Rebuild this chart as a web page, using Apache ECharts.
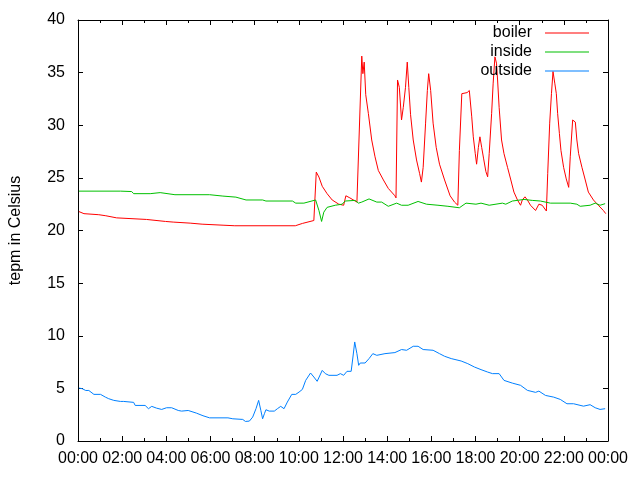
<!DOCTYPE html>
<html>
<head>
<meta charset="utf-8">
<script src="https://cdn.jsdelivr.net/npm/echarts@6/dist/echarts.min.js"></script>
<style>html,body{margin:0;padding:0;background:#fff;}#c{width:640px;height:480px;}</style>
</head>
<body>
<div id="c"></div>
<script>
const seriesNames = ['boiler', 'inside', 'outside'];
const xTickHours = [0, 2, 4, 6, 8, 10, 12, 14, 16, 18, 20, 22, 24];

const boilerHours = [0.04,0.27,0.94,1.26,1.75,3.1,3.96,4.31,5.08,5.62,6.61,7.1,9.84,10.16,10.68,10.79,10.91,11.06,11.28,11.51,11.81,12.03,12.13,12.31,12.63,12.72,12.85,12.9,12.96,13.03,13.15,13.3,13.45,13.6,13.83,14.05,14.35,14.4,14.47,14.55,14.65,14.73,14.83,14.91,14.98,15.06,15.18,15.33,15.47,15.55,15.63,15.74,15.82,15.88,15.97,16.08,16.22,16.37,16.6,16.85,17.05,17.2,17.27,17.38,17.62,17.72,17.83,17.9,17.99,18.05,18.13,18.2,18.28,18.37,18.47,18.55,18.62,18.73,18.8,18.88,18.95,19.0,19.07,19.18,19.29,19.45,19.6,19.74,19.9,20.04,20.12,20.24,20.35,20.49,20.72,20.87,21.02,21.21,21.27,21.36,21.44,21.51,21.59,21.66,21.72,21.8,21.87,21.99,22.11,22.22,22.29,22.4,22.52,22.59,22.67,22.82,22.97,23.11,23.34,23.56,23.79,23.9];
const boilerTemps = [21.8,21.6,21.5,21.4,21.2,21.05,20.86,20.8,20.7,20.6,20.5,20.45,20.45,20.67,20.95,25.55,25.08,24.2,23.5,22.9,22.5,22.4,23.3,23.1,22.7,22.6,36.57,34.9,36.0,32.9,31.1,28.6,27.0,25.7,24.8,24.0,23.3,23.1,34.3,33.6,30.5,31.7,33.6,36.0,33.6,31.0,28.6,26.7,25.4,24.6,26.0,30.2,33.3,34.9,33.3,30.2,27.9,26.3,24.8,23.3,22.7,22.4,27.6,33.0,33.1,33.3,30.8,28.9,27.3,26.3,27.9,28.9,27.9,26.8,25.6,25.1,27.3,31.1,34.0,36.5,35.9,34.3,31.7,28.6,27.3,26.0,24.8,23.65,22.9,22.4,22.9,23.2,22.9,22.4,21.9,22.5,22.4,21.85,25.4,30.2,33.0,35.1,34.0,33.0,31.1,29.2,27.6,26.0,24.9,24.1,27.0,30.5,30.3,28.6,27.3,26.0,24.8,23.65,22.9,22.4,21.9,21.6];

const insideHours = [0.04,1.93,2.43,2.52,3.27,3.72,4.39,5.96,6.56,7.15,7.61,8.36,8.51,9.71,9.86,10.23,10.76,10.91,11.03,11.13,11.28,11.65,11.96,12.1,12.55,12.7,12.85,13.18,13.53,13.75,14.05,14.43,14.65,14.95,15.4,15.78,16.3,16.75,17.27,17.57,18.02,18.25,18.62,19.22,19.37,19.67,20.2,20.57,20.94,21.39,22.29,22.59,22.74,23.19,23.42,23.64,23.87];
const insideTemps = [23.74,23.74,23.7,23.5,23.5,23.6,23.4,23.4,23.27,23.17,22.9,22.9,22.8,22.8,22.6,22.6,22.9,21.9,20.86,21.74,22.2,22.4,22.5,22.8,22.86,22.6,22.7,23.0,22.7,22.7,22.3,22.6,22.4,22.4,22.76,22.5,22.4,22.3,22.16,22.6,22.5,22.6,22.4,22.6,22.5,22.8,22.95,22.86,22.8,22.6,22.6,22.5,22.3,22.4,22.6,22.4,22.55];

const outsideHours = [0.04,0.19,0.35,0.49,0.72,1.02,1.24,1.39,1.62,1.92,2.07,2.52,2.59,3.04,3.19,3.34,3.56,3.79,4.01,4.24,4.54,4.69,4.99,5.36,5.66,5.96,6.79,6.86,7.01,7.46,7.58,7.76,7.91,8.06,8.18,8.28,8.36,8.44,8.51,8.66,8.89,9.03,9.18,9.33,9.48,9.68,9.86,10.01,10.16,10.31,10.53,10.68,10.83,11.06,11.2,11.36,11.73,11.88,12.03,12.18,12.37,12.45,12.53,12.63,12.71,12.78,13.0,13.18,13.35,13.53,13.9,14.35,14.65,14.88,15.18,15.4,15.63,16.08,16.37,16.6,16.9,17.35,17.65,17.95,18.25,18.55,18.77,19.07,19.29,19.67,20.04,20.35,20.72,20.87,21.17,21.54,21.84,22.14,22.44,22.89,23.19,23.42,23.64,23.87];
const outsideTemps = [5.03,4.97,4.8,4.8,4.43,4.43,4.17,4.02,3.86,3.76,3.76,3.67,3.38,3.38,3.07,3.29,3.12,3.0,3.16,3.16,2.9,2.84,2.9,2.65,2.4,2.2,2.2,2.27,2.11,2.05,1.86,1.89,2.27,3.07,3.86,2.9,2.11,2.59,2.97,2.84,2.84,3.07,3.29,3.07,3.7,4.43,4.43,4.65,4.9,5.76,6.46,6.08,5.67,6.71,6.4,6.24,6.24,6.4,6.24,6.62,6.62,7.98,9.41,8.3,7.19,7.41,7.41,7.83,8.3,8.14,8.3,8.4,8.69,8.62,9.0,9.0,8.69,8.62,8.3,8.05,7.83,7.6,7.35,7.03,6.78,6.55,6.4,6.4,5.76,5.5,5.29,4.81,4.62,4.74,4.33,4.17,3.95,3.54,3.54,3.31,3.45,3.16,3.0,3.07];

const colors = ['#ff0000', '#00c000', '#0080ff'];
const FONT = 'Liberation Sans, Arial, sans-serif';

function pairs(h, v) { return h.map((x, i) => [x, v[i]]); }
function fmtHour(v) { const h = Math.round(v) % 24; return (h < 10 ? '0' : '') + h + ':00'; }

const tickStyle = { show: true, inside: true, length: 5, lineStyle: { color: '#000', width: 1 } };
const minorStyle = { show: true, splitNumber: 2, length: 3, lineStyle: { color: '#000', width: 1 } };
const lineStyleAxis = { show: true, onZero: false, lineStyle: { color: '#000', width: 1 } };

const chart = echarts.init(document.getElementById('c'), null, { renderer: 'canvas' });
chart.setOption({
  animation: false,
  backgroundColor: '#fff',
  color: colors,
  grid: { left: 74, right: 32, top: 20, bottom: 39, containLabel: false },
  legend: {
    orient: 'vertical',
    right: 46,
    top: 20,
    align: 'right',
    icon: 'rect',
    itemWidth: 44,
    itemHeight: 1,
    itemGap: 3,
    data: seriesNames,
    textStyle: { fontFamily: FONT, fontSize: 16, color: '#000', lineHeight: 16, padding: [0, 8, 0, 0] }
  },
  xAxis: [{
    type: 'value', min: 0, max: 24, interval: 2, position: 'bottom',
    axisLine: lineStyleAxis, axisTick: tickStyle, minorTick: minorStyle,
    splitLine: { show: false },
    axisLabel: { fontFamily: FONT, fontSize: 16, color: '#000', margin: 10, formatter: fmtHour, showMinLabel: true, showMaxLabel: true }
  }, {
    type: 'value', min: 0, max: 24, interval: 2, position: 'top',
    axisLine: lineStyleAxis, axisTick: tickStyle, minorTick: minorStyle,
    splitLine: { show: false }, axisLabel: { show: false }
  }],
  yAxis: [{
    type: 'value', min: 0, max: 40, interval: 5, position: 'left',
    name: 'tepm in Celsius', nameLocation: 'middle', nameGap: 54, nameRotate: 90,
    nameTextStyle: { fontFamily: FONT, fontSize: 16, color: '#000' },
    axisLine: lineStyleAxis, axisTick: tickStyle,
    splitLine: { show: false },
    axisLabel: { fontFamily: FONT, fontSize: 16, color: '#000', margin: 13 }
  }, {
    type: 'value', min: 0, max: 40, interval: 5, position: 'right',
    axisLine: lineStyleAxis, axisTick: tickStyle,
    splitLine: { show: false }, axisLabel: { show: false }
  }],
  series: [
    { name: seriesNames[0], type: 'line', symbol: 'none', data: pairs(boilerHours, boilerTemps), lineStyle: { width: 1, color: colors[0] }, itemStyle: { color: colors[0] } },
    { name: seriesNames[1], type: 'line', symbol: 'none', data: pairs(insideHours, insideTemps), lineStyle: { width: 1, color: colors[1] }, itemStyle: { color: colors[1] } },
    { name: seriesNames[2], type: 'line', symbol: 'none', data: pairs(outsideHours, outsideTemps), lineStyle: { width: 1, color: colors[2] }, itemStyle: { color: colors[2] } }
  ]
});
</script>
</body>
</html>
